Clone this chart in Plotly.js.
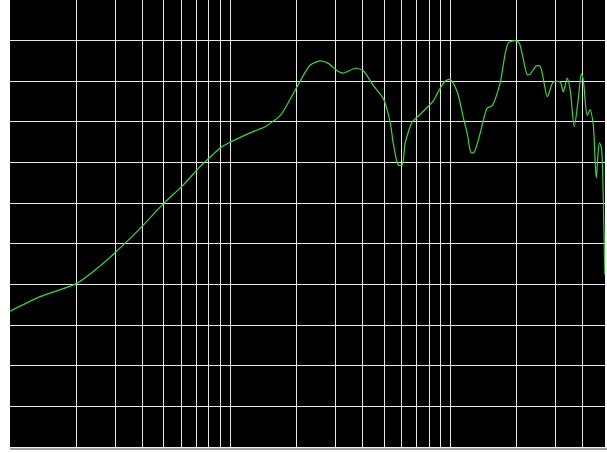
<!DOCTYPE html>
<html>
<head>
<meta charset="utf-8">
<script src="https://cdn.plot.ly/plotly-3.0.1.min.js"></script>
<style>
  html, body { margin: 0; padding: 0; background: #ffffff; }
  #chart { width: 607px; height: 453px; }
</style>
</head>
<body>
<div id="chart"></div>
<script>
// Frequency response: frequency in Hz, level in dB
const freqHz = [
  10.0, 13.7, 20, 24.4, 30, 40, 50, 60.5, 73, 82.8, 90, 100, 111, 127, 144, 155, 169,
  201, 231, 256, 279, 306, 326, 370, 402, 446, 495, 533, 550, 580, 604, 623, 671,
  708, 785, 837, 880, 946, 998, 1074, 1143, 1192, 1242, 1282, 1365, 1469, 1548,
  1683, 1830, 1968, 2054, 2235, 2306, 2455, 2560, 2754, 2931, 3154, 3254, 3394,
  3500, 3650, 3805, 3928, 4010, 4180, 4314, 4455, 4595, 4743, 4843, 4948, 5030
];
const levelDb = [
  56.7, 58.5, 60.1, 61.8, 63.9, 67.2, 70.0, 72.1, 74.5, 75.9, 76.8, 77.5, 78.1, 78.8, 79.4, 80.0, 80.8,
  84.3, 87.0, 87.5, 87.2, 86.3, 86.0, 86.6, 86.3, 84.5, 82.9, 79.9, 77.4, 74.7, 74.7, 77.4, 80.0,
  80.6, 81.8, 82.6, 83.7, 85.0, 85.2, 83.7, 80.6, 78.6, 76.2, 76.3, 78.6, 81.7, 82.0,
  84.8, 89.7, 90.0, 89.7, 85.8, 85.9, 86.9, 86.8, 83.1, 84.9, 84.9, 83.7, 85.4,
  83.9, 79.4, 82.7, 85.9, 85.2, 80.8, 81.5, 79.6, 73.1, 77.4, 76.9, 70.4, 61.2
];

// Grid positions on the log frequency axis (2..9 of each decade)
const freqGrid = [
  20, 30, 40, 50, 60, 70, 80, 90, 100,
  200, 300, 400, 500, 600, 700, 800, 900, 1000,
  2000, 3000, 4000, 5000
];

const trace = {
  x: freqHz,
  y: levelDb,
  type: 'scatter',
  mode: 'lines',
  line: { color: '#3ad83a', width: 1.2, shape: 'spline', smoothing: 0.7 },
  hoverinfo: 'x+y'
};

const layout = {
  width: 607,
  height: 453,
  margin: { l: 10, r: 2, t: 0, b: 6 },
  paper_bgcolor: '#ffffff',
  plot_bgcolor: '#000000',
  showlegend: false,
  xaxis: {
    type: 'log',
    range: [1, Math.log10(5036)],
    tickmode: 'array',
    tickvals: freqGrid,
    showticklabels: false,
    ticks: '',
    showgrid: true,
    gridcolor: '#e6e6e6',
    gridwidth: 1,
    zeroline: false,
    showline: true,
    linecolor: '#f0f0f0',
    linewidth: 1
  },
  yaxis: {
    range: [40, 95],
    tick0: 40,
    dtick: 5,
    showticklabels: false,
    ticks: '',
    showgrid: true,
    gridcolor: '#e6e6e6',
    gridwidth: 1,
    zeroline: false,
    showline: false
  },
  shapes: [
    {
      type: 'line', xref: 'paper', yref: 'paper',
      x0: 0, x1: 1.01, y0: -0.0045, y1: -0.0045,
      line: { color: '#444444', width: 1 }
    }
  ]
};

Plotly.newPlot('chart', [trace], layout, { displayModeBar: false, staticPlot: true });
</script>
</body>
</html>
